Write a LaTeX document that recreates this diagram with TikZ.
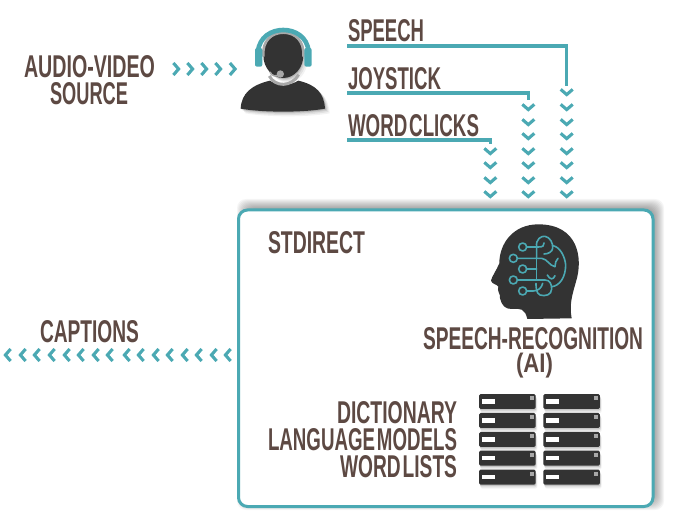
\documentclass[tikz,border=0pt]{standalone}
\usepackage{fontspec}
\setmainfont{Liberation Sans}
\usepackage{graphicx}
\definecolor{teal1}{HTML}{4BA9B3}
\definecolor{brown1}{HTML}{5D4943}
\definecolor{dark1}{HTML}{333333}
\definecolor{gray1}{HTML}{A8A8A8}
\newcommand\fitlbl[3]{\resizebox{#1pt}{#2pt}{\bfseries #3}}
\tikzset{
  lbl/.style={inner sep=0pt,outer sep=0pt,text=brown1,anchor=base west},
  feed/.style={draw=teal1,line width=3.2pt,line join=miter},
  chev/.style={draw=teal1,line width=3.1pt,line join=miter},
  circuit/.style={draw=teal1,line width=1.6pt,line cap=round,line join=round},
}
\newcommand\chevdown[2]{\draw[chev] (#1-6,#2-2.6) -- (#1,#2+2.6) -- (#1+6,#2-2.6);}
\newcommand\chevright[2]{\draw[chev] (#1-2.6,#2-6) -- (#1+2.6,#2) -- (#1-2.6,#2+6);}
\newcommand\chevleft[2]{\draw[chev] (#1+2.6,#2-6) -- (#1-2.6,#2) -- (#1+2.6,#2+6);}
\begin{document}
\begin{tikzpicture}[x=1pt,y=-1pt]
\useasboundingbox (0,0) rectangle (679,526);
% main box with soft shadow, cast up and to the right
\foreach \e in {6,5,4,3,2,1,0,-1,-2,-3}{
  \fill[black,opacity=0.04,rounded corners=9pt] (243-\e,205-\e) rectangle (658+\e,504+\e);
}
\node[draw=teal1,fill=white,line width=3pt,rounded corners=9pt,minimum width=414.5pt,minimum height=296.5pt,inner sep=0pt,outer sep=0pt,anchor=north west] (box) at (238.5,210) {};
% labels
\node[lbl] (speech) at (348,42) {\fitlbl{76}{22}{SPEECH}};
\node[lbl] (joystick) at (348,89.5) {\fitlbl{93}{22}{JOYSTICK}};
\node[lbl] (wordclicks) at (348,136.5) {\fitlbl{131}{22}{WORD\hspace{1pt}CLICKS}};
\node[lbl] (audio) at (24,78) {\fitlbl{131}{22}{AUDIO-VIDEO}};
\node[lbl] (source) at (50,105) {\fitlbl{78}{22}{SOURCE}};
\node[lbl] (stdirect) at (268,254) {\fitlbl{97}{22}{STDIRECT}};
\node[lbl] (captions) at (40,342) {\fitlbl{99}{22}{CAPTIONS}};
\node[lbl] (recog) at (423,349.5) {\fitlbl{220}{22}{SPEECH-RECOGNITION}};
\node[lbl] (ai) at (516,372.5) {\resizebox*{37pt}{25pt}{\bfseries (AI)}};
\node[lbl] (dict) at (337,423.5) {\fitlbl{120}{22}{DICTIONARY}};
\node[lbl] (lang) at (268,450.5) {\fitlbl{189}{22}{LANGUAGE\hspace{1pt}MODELS}};
\node[lbl] (wl) at (340,477.5) {\fitlbl{117}{22}{WORD\hspace{1pt}LISTS}};
% feed lines
\coordinate (s0) at (347,46);
\coordinate (s1) at (566.7,46);
\coordinate (s2) at (566.7,86);
\coordinate (j0) at (347,93);
\coordinate (j1) at (528.3,93);
\coordinate (j2) at (528.3,100);
\coordinate (w0) at (347,140);
\coordinate (w1) at (490.3,140);
\coordinate (w2) at (490.3,144);
\draw[feed] (s0) -- (s1) -- (s2);
\draw[feed] (j0) -- (j1) -- (j2);
\draw[feed] (w0) -- (w1) -- (w2);
% chevrons
\foreach \y in {92,107,122,136,151,165,180,194}{\chevdown{566.7}{\y}}
\foreach \y in {107,122,136,151,165,180,194}{\chevdown{528.3}{\y}}
\foreach \y in {151,165,180,194}{\chevdown{490.3}{\y}}
\foreach \x in {176,190,204,218,232.5}{\chevright{\x}{69}}
\foreach \x in {8,23,37,52,67,81,96,110,127,141,156,170,185,199,214,228}{\chevleft{\x}{355}}
% person
\begin{scope}[shift={(220,10)},x=0.3333pt,y=-0.3333pt]
  \def\bodypath{(62,296) .. controls (64,250) and (95,225) .. (150,212) .. controls (170,228) and (210,228) .. (235,212) .. controls (290,225) and (312,250) .. (315,296) .. controls (250,308) and (130,308) .. cycle}
  \foreach \d/\o in {14/0.05,10/0.07,6/0.09,3/0.12}{
    \fill[black,opacity=\o,shift={(\d,\d)}] \bodypath;
    \fill[black,opacity=\o,shift={(\d,\d)}] (190,138) ellipse (58 and 66);
  }
  \fill[dark1] \bodypath;
  % neck ring
  \draw[gray1,line width=3pt] (148,198) .. controls (165,232) and (215,232) .. (236,194);
  % head
  \fill[dark1] (190,136) ellipse (60 and 68);
  % inner band
  \draw[gray1,line width=2.6pt] (130,140) .. controls (126,92) and (155,68) .. (190,68) .. controls (225,68) and (254,92) .. (250,140);
  % headset
  \draw[teal1,line width=4.6pt] (114,125) .. controls (118,80) and (155,60) .. (190,60) .. controls (225,60) and (262,80) .. (266,125);
  \fill[teal1,rounded corners=2pt] (105,114) rectangle (127,170);
  \fill[teal1,rounded corners=2pt] (253,114) rectangle (275,170);
  % microphone
  \draw[gray1,line width=1.6pt] (150,186) .. controls (155,200) and (170,200) .. (180,194);
  \fill[gray1] (181,192) circle (11);
\end{scope}
% head with circuit brain
\begin{scope}[shift={(470,215)},x=0.3333pt,y=-0.3333pt]
  \fill[dark1] (305,310) .. controls (298,270) and (305,245) .. (318,200) .. controls (340,130) and (325,28) .. (205,28)
     .. controls (130,28) and (88,85) .. (88,145) .. controls (80,165) and (65,185) .. (63,197) .. controls (66,208) and (82,208) .. (85,215)
     .. controls (80,230) and (92,235) .. (90,250) .. controls (95,270) and (105,283) .. (125,282) .. controls (150,280) and (165,280) .. (172,312) -- cycle;
  % circuit
  \foreach \x/\y in {158/96,130/130,158/162,130/195,158/228}{\draw[circuit] (\x,\y) circle (12);}
  \draw[circuit] (170,96) -- (205,96) .. controls (220,96) and (222,92) .. (222,84);
  \draw[circuit] (142,130) -- (215,130) .. controls (232,132) and (238,152) .. (255,155);
  \draw[circuit] (170,162) -- (200,162);
  \draw[circuit] (142,195) -- (225,195) .. controls (240,195) and (245,208) .. (245,222) .. controls (245,240) and (225,245) .. (210,240) .. controls (198,235) and (198,215) .. (198,205);
  \draw[circuit] (170,228) -- (190,228) .. controls (205,228) and (215,218) .. (218,205);
  \draw[circuit] (200,130) -- (200,96) .. controls (196,72) and (215,62) .. (225,64) .. controls (240,66) and (250,85) .. (248,100) .. controls (247,110) and (235,117) .. (222,117);
  \draw[circuit] (200,130) -- (200,195);
  \draw[circuit] (248,92) .. controls (270,95) and (285,125) .. (287,150) .. controls (287,185) and (270,212) .. (246,215);
  \draw[circuit] (255,155) .. controls (255,145) and (258,135) .. (264,130);
  \draw[circuit] (232,180) .. controls (240,195) and (250,195) .. (255,182);
\end{scope}
% servers
\begin{scope}[shift={(470,385)},x=0.3333pt,y=-0.3333pt]
  \foreach \x in {27,220}{
    \foreach \y in {27,84,141,197,254}{
      \foreach \d/\o in {12/0.05,8/0.08,4/0.12}{
        \fill[black,opacity=\o,rounded corners=2pt] (\x+\d*0.4,\y+\d) rectangle (\x+170+\d*0.4,\y+45+\d);
      }
      \fill[dark1,rounded corners=1.5pt] (\x,\y) rectangle (\x+170,\y+45);
      \fill[white] (\x+8,\y+16) rectangle (\x+48,\y+29);
      \fill[gray1] (\x+153,\y+7) rectangle (\x+165,\y+18);
    }
  }
\end{scope}
\end{tikzpicture}
\end{document}
